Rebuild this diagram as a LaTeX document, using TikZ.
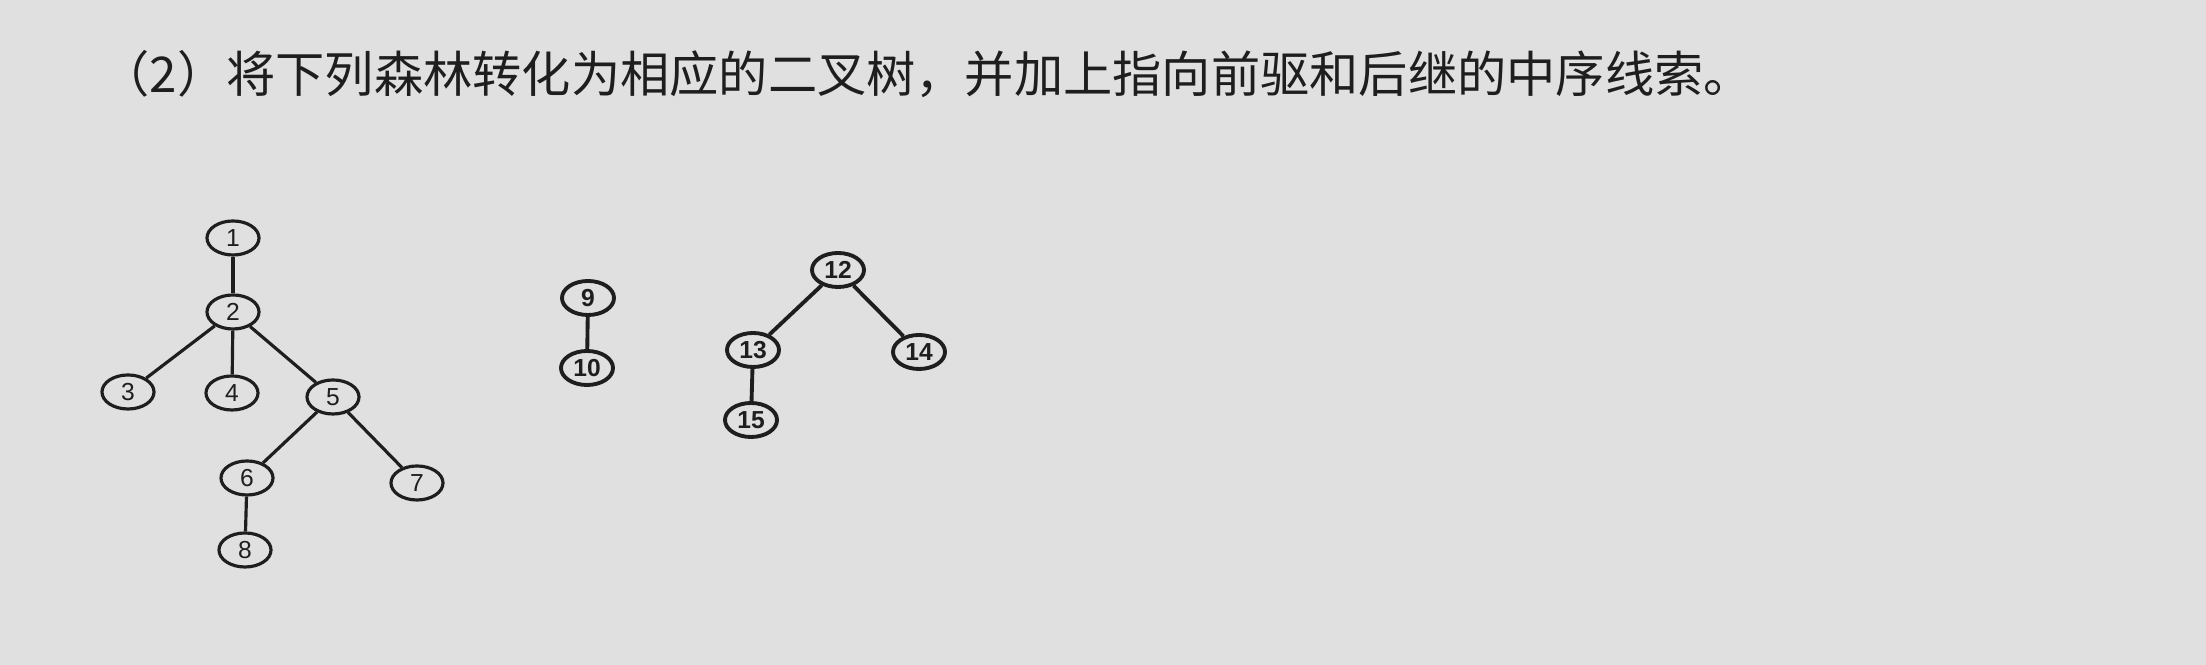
\documentclass[tikz,border=0pt]{standalone}
\usepackage{fontspec}
\usetikzlibrary{shapes.geometric}
\newfontfamily\cjk{Noto Sans CJK SC}
\newfontfamily\numfont{Liberation Sans}
\definecolor{paper}{RGB}{224,224,224}
\definecolor{ink}{RGB}{30,30,30}
\begin{document}
\begin{tikzpicture}[x=0.01cm, y=-0.01cm,
  vertex/.style={ellipse, draw=ink, line width=0.9pt, minimum width=0.52cm, minimum height=0.34cm, inner sep=0pt, font=\numfont\fontsize{7}{8}\selectfont, text=ink},
  boldvertex/.style={vertex, line width=1.1pt, font=\numfont\bfseries\fontsize{7}{8}\selectfont},
  edge/.style={draw=ink, line width=0.9pt},
  boldedge/.style={draw=ink, line width=1.1pt}]
  \fill [ paper ] (0,0) rectangle (2206,665);
  \useasboundingbox (0,0) rectangle (2206,665);
  \node [ anchor=west, text=ink, font=\cjk\fontsize{14}{16}\selectfont, inner sep=0pt ] (title) at (100,74) {（2）将下列森林转化为相应的二叉树，并加上指向前驱和后继的中序线索。};

  % first tree
  \node [vertex] (n1) at (233,238) {1};
  \node [vertex] (n2) at (233,312) {2};
  \node [vertex] (n3) at (128,392) {3};
  \node [vertex] (n4) at (232,393) {4};
  \node [vertex] (n5) at (333,397) {5};
  \node [vertex] (n6) at (247,478) {6};
  \node [vertex] (n7) at (417,483) {7};
  \node [vertex] (n8) at (245,550) {8};
  \draw [edge] (n1)--(n2);
  \draw [edge] (n2)--(n3);
  \draw [edge] (n2)--(n4);
  \draw [edge] (n2)--(n5);
  \draw [edge] (n5)--(n6);
  \draw [edge] (n5)--(n7);
  \draw [edge] (n6)--(n8);

  % second tree
  \node [boldvertex] (n9) at (588,298) {9};
  \node [boldvertex] (n10) at (587,368) {10};
  \draw [boldedge] (n9)--(n10);

  % third tree
  \node [boldvertex] (n12) at (838,270) {12};
  \node [boldvertex] (n13) at (753,350) {13};
  \node [boldvertex] (n14) at (919,352) {14};
  \node [boldvertex] (n15) at (751,420) {15};
  \draw [boldedge] (n12)--(n13);
  \draw [boldedge] (n12)--(n14);
  \draw [boldedge] (n13)--(n15);
\end{tikzpicture}
\end{document}
